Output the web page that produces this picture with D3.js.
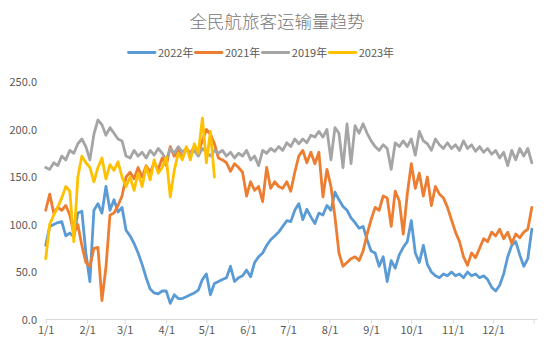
<!DOCTYPE html>
<html>
<head>
<meta charset="utf-8">
<script src="https://cdn.jsdelivr.net/npm/d3@7"></script>
<style>
  body { margin: 0; background: #fff; }
  text { font-family: "Noto Sans CJK SC", "Noto Sans", sans-serif; fill: #595959; }
  .title { fill: #767676; }
  .line { fill: none; stroke-width: 2.8; stroke-linejoin: round; stroke-linecap: round; }
  .axis-line { stroke: #d9d9d9; stroke-width: 1; }
</style>
</head>
<body>
<div id="plot"></div>
<script>
const CANVAS_WIDTH   = 554;
const CANVAS_HEIGHT  = 351;

const PLOT_LEFT      = 45.7;
const PLOT_RIGHT     = 534.5;
const PLOT_TOP       = 82;
const PLOT_BOTTOM    = 319.5;

const DAY_STEP       = 3;     // one value every 3 days
const DAYS_IN_YEAR   = 365;

const TITLE = "全民航旅客运输量趋势";

// month start (day of year) and its label
const MONTH_DAYS   = [0, 31, 59, 90, 120, 151, 181, 212, 243, 273, 304, 334];
const MONTH_LABELS = ["1/1", "2/1", "3/1", "4/1", "5/1", "6/1", "7/1", "8/1", "9/1", "10/1", "11/1", "12/1"];
const Y_TICKS = [0, 50, 100, 150, 200, 250];

// values, one every DAY_STEP days from 1/1
const VALUES_2022 = [
   78, 98,100,102,103, 88, 91, 87,112,114,
   70, 40,115,122,112,140,115,126,113,118,
   94, 88, 80, 70, 58, 44, 32, 28, 27, 30,
   30, 17, 26, 22, 22, 24, 26, 28, 31, 42,
   48, 26, 38, 40, 42, 44, 56, 40, 44, 46,
   52, 45, 60, 66, 70, 78, 84, 88, 92, 98,
  104,103,115,122,105,116,108,101,112,110,
  120,115,134,126,119,115,107,102, 96, 98,
   84, 72, 70, 56, 66, 40, 62, 54, 68, 76,
   82,104, 70, 60, 78, 58, 50, 46, 44, 48,
   46, 50, 46, 48, 44, 50, 46, 48, 44, 46,
   42, 34, 30, 36, 48, 66, 78, 82, 68, 56,
   64, 95
];
const VALUES_2021 = [
  115,132,112,118,115,120,110, 90,100, 78,
   60, 56, 75, 76, 20, 55,110,112,120,130,
  150,155,148,160,150,162,155,165,158,170,
  162,182,172,178,170,180,175,182,176,188,
  200,195,185,170,168,165,156,164,160,155,
  130,145,136,140,124,160,138,145,140,138,
  145,135,155,172,178,165,176,164,176,129,
  158,140,108, 70, 56, 60, 64, 66, 62, 72,
   90,105,118,115,130,128, 98,135,125, 90,
  132,164,138,154,130,150,120,140,132,128,
  118,105, 92, 82, 66, 57, 70, 65, 75, 85,
   82, 92, 88, 95, 85, 92, 80, 90, 86, 92,
   95,118
];
const VALUES_2019 = [
  160,158,165,162,172,168,178,175,185,190,
  182,168,195,210,205,194,202,196,190,188,
  172,170,178,172,176,170,178,173,180,175,
  168,180,175,182,176,180,174,178,172,180,
  176,172,178,175,178,172,176,170,175,172,
  178,168,172,162,178,175,180,177,182,178,
  186,182,190,185,190,186,194,192,198,192,
  200,168,202,196,160,206,164,204,196,206,
  196,188,182,178,184,180,158,186,182,188,
  182,190,173,198,188,185,178,190,184,180,
  186,180,184,178,188,180,184,177,182,176,
  180,174,178,170,176,162,178,168,180,172,
  180,165
];
const VALUES_2023 = [
   64,100,110,118,128,140,135, 82,150,172,
  165,160,145,160,170,148,163,157,166,150,
  140,150,136,154,140,161,147,168,154,160,
  171,129,157,175,168,182,168,185,175,212,
  165,198,150
];

const SERIES = [
  {'name': "2022年", 'values': VALUES_2022, 'color': "#5B9BD5"},
  {'name': "2021年", 'values': VALUES_2021, 'color': "#ED7D31"},
  {'name': "2019年", 'values': VALUES_2019, 'color': "#A5A5A5"},
  {'name': "2023年", 'values': VALUES_2023, 'color': "#FFC000"}
];

var svg = d3.select("#plot")
            .append("svg")
            .attr("width", CANVAS_WIDTH)
            .attr("height", CANVAS_HEIGHT);

var xScale = d3.scaleLinear()
               .domain([0, DAYS_IN_YEAR])
               .range([PLOT_LEFT, PLOT_RIGHT]);
var yScale = d3.scaleLinear()
               .domain([0, 250])
               .range([PLOT_BOTTOM, PLOT_TOP]);

// title
svg.append("text")
   .attr("class", "title")
   .attr("x", 277)
   .attr("y", 28)
   .attr("text-anchor", "middle")
   .style("font-size", "17.5px")
   .style("font-weight", 300)
   .text(TITLE);

// legend
var legend = svg.append("g").attr("transform", "translate(128.5, 52.5)");
SERIES.forEach(function(s, i) {
    var g = legend.append("g").attr("transform", "translate(" + (i * 66.9) + ",0)");
    g.append("line")
     .attr("x1", 0).attr("x2", 26.5)
     .attr("y1", 0).attr("y2", 0)
     .attr("stroke", s.color)
     .attr("stroke-width", 2.8)
     .attr("stroke-linecap", "round");
    g.append("text")
     .attr("x", 29.5)
     .attr("y", 4)
     .style("font-size", "11px")
     .text(s.name);
});

// y axis labels (no axis line)
var yAxis = d3.axisLeft(yScale)
              .tickValues(Y_TICKS)
              .tickFormat(d3.format(".1f"))
              .tickSize(0)
              .tickPadding(0);
var gy = svg.append("g")
            .attr("transform", "translate(37,0)")
            .call(yAxis);
gy.select(".domain").remove();
gy.selectAll("text")
  .style("font-size", "11px")
  .style("font-family", "\"Noto Sans CJK SC\", sans-serif")
  .attr("fill", "#595959");

// x axis
var xAxis = d3.axisBottom(xScale)
              .tickValues(MONTH_DAYS.concat([DAYS_IN_YEAR - 0.7]))
              .tickFormat(function(d, i) { return i < MONTH_LABELS.length ? MONTH_LABELS[i] : ""; })
              .tickSizeInner(4)
              .tickSizeOuter(0)
              .tickPadding(3);
var gx = svg.append("g")
            .attr("transform", "translate(0," + PLOT_BOTTOM + ")")
            .call(xAxis);
gx.select(".domain").remove();
gx.append("line")
  .attr("class", "axis-line")
  .attr("x1", PLOT_LEFT).attr("x2", 537.5)
  .attr("y1", 0).attr("y2", 0);
gx.selectAll(".tick line").attr("stroke", "#d9d9d9");
gx.selectAll("text")
  .style("font-size", "11px")
  .style("font-family", "\"Noto Sans CJK SC\", sans-serif")
  .attr("fill", "#595959");

// series lines
var lineGenerator = d3.line()
                      .x(function(d, i) { return xScale(i * DAY_STEP); })
                      .y(function(d) { return yScale(d); });

SERIES.forEach(function(s) {
    svg.append("path")
       .attr("class", "line")
       .attr("stroke", s.color)
       .attr("d", lineGenerator(s.values));
});
</script>
</body>
</html>
